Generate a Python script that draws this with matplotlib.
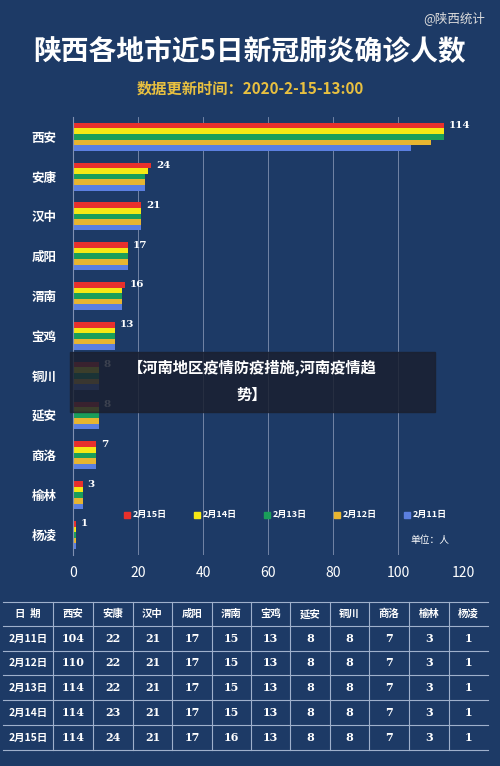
import numpy as np
import matplotlib.pyplot as plt

plt.rcParams['font.family'] = ['Noto Sans CJK SC', 'DejaVu Sans']

cities = ["西安", "安康", "汉中", "咸阳", "渭南", "宝鸡", "铜川", "延安", "商洛", "榆林", "杨凌"]
dates = ["2月15日", "2月14日", "2月13日", "2月12日", "2月11日"]
colors = ["#e8302c", "#f5e815", "#1a9e5a", "#e8b530", "#5b7fe0"]
values = {
    "2月11日": [104, 22, 21, 17, 15, 13, 8, 8, 7, 3, 1],
    "2月12日": [110, 22, 21, 17, 15, 13, 8, 8, 7, 3, 1],
    "2月13日": [114, 22, 21, 17, 15, 13, 8, 8, 7, 3, 1],
    "2月14日": [114, 23, 21, 17, 15, 13, 8, 8, 7, 3, 1],
    "2月15日": [114, 24, 21, 17, 16, 13, 8, 8, 7, 3, 1],
}
table_cities = ["西安", "安康", "汉中", "咸阳", "渭南", "宝鸡", "延安", "铜川", "商洛", "榆林", "杨凌"]
table_dates = ["2月11日", "2月12日", "2月13日", "2月14日", "2月15日"]

BG = "#1d3a66"
fig = plt.figure(figsize=(5, 7.66), dpi=100, facecolor=BG)

fig.text(0.97, 0.977, "@陕西统计", color="#dddddd", fontsize=9, ha="right", va="center")
fig.text(0.5, 0.932, "陕西各地市近5日新冠肺炎确诊人数", color="white", fontsize=20,
         fontweight="bold", ha="center", va="center")
fig.text(0.5, 0.884, "数据更新时间：2020-2-15-13:00", color="#e8c040", fontsize=11,
         fontweight="bold", ha="center", va="center")

ax = fig.add_axes([0.146, 0.2755, 0.78, 0.572])
ax.set_facecolor(BG)
h = 0.14
y = np.arange(len(cities))
for i, d in enumerate(dates):
    ax.barh(y - 2 * h + i * h, values[d], height=h, color=colors[i])
for k, v in enumerate(values["2月15日"]):
    ax.text(v + 1.5, k - 2 * h, str(v), color="white", fontsize=7.5,
            fontweight="bold", va="center", family="DejaVu Serif")
ax.set_xlim(0, 120)
ax.set_ylim(len(cities) - 0.5, -0.5)
ax.set_yticks(y)
ax.set_yticklabels(cities, color="white", fontsize=9, fontweight="bold")
ax.set_xticks(range(0, 121, 20))
ax.tick_params(axis="x", colors="white", labelsize=10, length=0, pad=8)
ax.tick_params(axis="y", length=0, pad=12)
ax.grid(axis="x", color="#8090b0", lw=0.6)
ax.set_axisbelow(True)
for s in ["top", "right", "bottom"]:
    ax.spines[s].set_visible(False)
ax.spines["left"].set_color("#8090b0")

for i, d in enumerate(dates):
    lx = 0.248 + i * 0.14
    fig.patches.append(plt.Rectangle((lx, 0.324), 0.012, 0.008, color=colors[i],
                                     transform=fig.transFigure, figure=fig))
    fig.text(lx + 0.018, 0.328, d, color="white", fontsize=6.5, fontweight="bold", va="center")
fig.text(0.82, 0.295, "单位：人", color="white", fontsize=7, va="center")

# table
tax = fig.add_axes([0, 0, 1, 1], facecolor="none")
tax.set_xlim(0, 500)
tax.set_ylim(766, 0)
tax.axis("off")
xs = [3, 53, 93, 133, 172, 212, 251, 290, 330, 369, 409, 449, 488]
ys = [602, 626, 651, 675, 700, 725, 750]
for yy in ys:
    tax.plot([xs[0], xs[-1]], [yy, yy], color="#9fb0cc", lw=0.8)
for xx in xs[1:-1]:
    tax.plot([xx, xx], [ys[0], ys[-1]], color="#9fb0cc", lw=0.8)
header = ["日  期"] + table_cities
for j, t in enumerate(header):
    tax.text((xs[j] + xs[j + 1]) / 2, (ys[0] + ys[1]) / 2, t, color="white",
             fontsize=7.5, fontweight="bold", ha="center", va="center")
for r, d in enumerate(table_dates):
    yc = (ys[r + 1] + ys[r + 2]) / 2
    tax.text((xs[0] + xs[1]) / 2, yc, d, color="white", fontsize=7.5,
             fontweight="bold", ha="center", va="center")
    for j, v in enumerate(values[d]):
        tax.text((xs[j + 1] + xs[j + 2]) / 2, yc, str(v), color="white", fontsize=8,
                 fontweight="bold", ha="center", va="center", family="DejaVu Serif")

# overlay banner
tax.add_patch(plt.Rectangle((70, 352), 365, 60, color="#1a2030", alpha=0.85))
tax.text(252, 368, "【河南地区疫情防疫措施,河南疫情趋", color="white", fontsize=11,
         fontweight="bold", ha="center", va="center")
tax.text(252, 395, "势】", color="white", fontsize=11, fontweight="bold",
         ha="center", va="center")

fig.savefig("out.png", dpi=100, facecolor=BG)
